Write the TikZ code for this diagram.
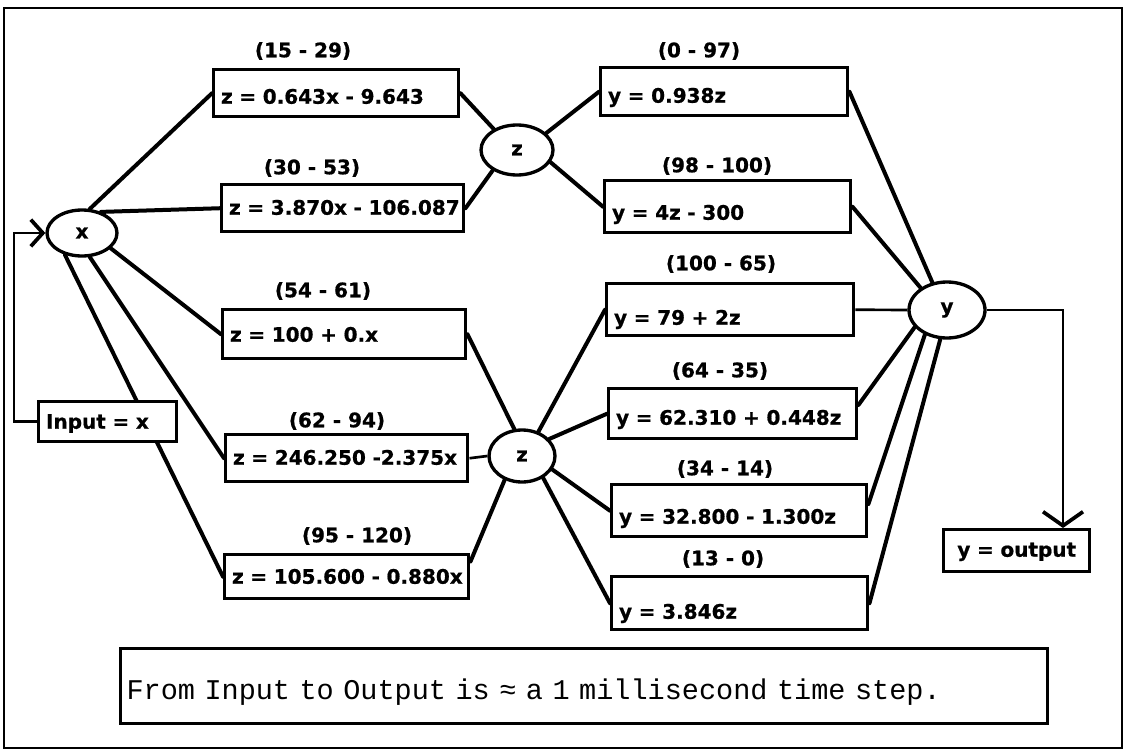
\documentclass[tikz,border=0pt]{standalone}
\usepackage{fontspec}
\newfontfamily\eqfont{DejaVu Sans}[BoldFeatures={FakeBold=0.8}]
\newfontfamily\notefont{Liberation Mono}
\usetikzlibrary{shapes.geometric,arrows.meta}
\pgfdeclarelayer{wires}
\pgfsetlayers{wires,main}

\tikzset{
  eqtext/.style={font=\eqfont\bfseries\fontsize{15}{18}\selectfont},
  eqbox/.style={eqtext, draw, rectangle, line width=2.6pt, fill=white,
    inner xsep=5.5pt, inner ysep=0pt, text depth=0pt, align=left, anchor=north west},
  rng/.style={eqtext, inner sep=0pt, text height=10.9pt, text depth=0pt},
  var/.style={eqtext, draw, ellipse, line width=2.5pt, fill=white, inner sep=0pt},
  wire/.style={line width=3pt, line cap=round},
  thinwire/.style={line width=2pt},
  notebox/.style={draw, rectangle, line width=2.3pt, fill=white, anchor=north west,
    font=\notefont\fontsize{21.4}{24}\selectfont, align=left,
    inner xsep=4.5pt, inner ysep=0pt, text depth=0pt},
}

% box from (x1,y1) to (x2,y2) in pixel units; #7 = baseline distance from the bottom edge
\newcommand\eqnode[8][]{%
  \pgfmathsetmacro\eqW{(#5-#3)*0.75}%
  \pgfmathsetmacro\eqH{(#6-#4)*0.75}%
  \pgfmathsetmacro\eqTW{(#5-#3)*0.75-11}%
  \pgfmathsetmacro\eqTH{(#6-#4-2*#7)*0.75}%
  \node[eqbox, minimum width=\eqW pt, minimum height=\eqH pt,
        text width=\eqTW pt, text height=\eqTH pt, #1] (#2) at (#3,#4) {\mbox{#8}};}

\begin{document}
\begin{tikzpicture}[x=0.75pt,y=-0.75pt]
\useasboundingbox (0,0) rectangle (1126,752);

% variable nodes
\node[var, minimum width=52.5pt, minimum height=34.5pt] (xn) at (82,233) {x};
\node[var, minimum width=54pt,   minimum height=37.5pt] (z1) at (517,150) {z};
\node[var, minimum width=49.5pt, minimum height=39pt]   (z2) at (522,456) {z};
\node[var, minimum width=57pt,   minimum height=42pt]   (yn) at (947,310) {y};

% first stage: z from x
\eqnode{A1}{212}{68}{457}{115}{13}{z = 0.643x - 9.643}
\eqnode{A2}{220}{183}{462}{230}{17}{z = 3.870x - 106.087}
\eqnode{A3}{221}{308}{464}{357}{17}{z = 100 + 0.x}
\eqnode{A4}{224}{433}{466}{480}{17}{z = 246.250 -2.375x}
\eqnode{A5}{223}{553}{467}{597}{15}{z = 105.600 - 0.880x}

% second stage: y from z
\eqnode{B1}{599}{66}{846}{114}{13}{y = 0.938z}
\eqnode{B2}{603}{179}{849}{231}{13}{y = 4z - 300}
\eqnode{B3}{605}{282}{852}{334}{11}{y = 79 + 2z}
\eqnode{B4}{607}{387}{855}{437}{14}{y = 62.310 + 0.448z}
\eqnode{B5}{610}{483}{865}{535}{13}{y = 32.800 - 1.300z}
\eqnode{B6}{610}{575}{866}{628}{11}{y = 3.846z}

% input and output
\eqnode{inb}{37}{400}{175}{440}{13}{Input = x}
\eqnode[align=center]{outb}{942}{528}{1088}{570}{15}{y = output}

% ranges
\node[rng] (L1) at (303,50)  {(15 - 29)};
\node[rng] (L2) at (312,167) {(30 - 53)};
\node[rng] (L3) at (323,290) {(54 - 61)};
\node[rng] (L4) at (337,420) {(62 - 94)};
\node[rng] (L5) at (357,535) {(95 - 120)};
\node[rng] (M1) at (699,50)  {(0 - 97)};
\node[rng] (M2) at (717,165) {(98 - 100)};
\node[rng] (M3) at (721,263) {(100 - 65)};
\node[rng] (M4) at (720,370) {(64 - 35)};
\node[rng] (M5) at (725,468) {(34 - 14)};
\node[rng] (M6) at (723,558) {(13 - 0)};

% note
\node[notebox, minimum width=695.25pt, minimum height=56.25pt,
      text width=686.25pt, text height=20.25pt] (note) at (119,647)
  {From Input to Output is ≈ a 1 millisecond time step.};

\coordinate (fb) at (14,233);
\coordinate (oc) at (1063,310);

\begin{pgfonlayer}{wires}
  \draw[line width=1.8pt] (4,8) rectangle (1122,748);

  \draw[wire] (xn.72)  -- (A1.west);
  \draw[wire] (xn.48)  -- (A2.west);
  \draw[wire] (xn.332) -- (A3.west);
  \draw[wire] (xn.288) -- (A4.west);
  \draw[wire] (xn.232) -- (A5.west);

  \draw[wire] (A1.east) -- (z1.138);
  \draw[wire] (A2.east) -- (z1.220);
  \draw[wire] (z1.30)  -- (B1.west);
  \draw[wire] (z1.340) -- (B2.west);

  \draw[wire] (A3.east) -- (z2.106);
  \draw[thinwire] (A4.east) -- (z2.west);
  \draw[wire] (A5.7) -- (z2.234);
  \draw[wire] (z2.56)  -- (B3.west);
  \draw[wire] (z2.32)  -- (B4.west);
  \draw[wire] (z2.336) -- (B5.west);
  \draw[wire] (z2.314) -- (B6.west);

  \draw[wire] (B1.east) -- (yn.118);
  \draw[wire] (B2.east) -- (yn.140);
  \draw[thinwire] (B3.east) -- (yn.west);
  \draw[wire] (B4.4) -- (yn.208);
  \draw[wire] (B5.3) -- (yn.228);
  \draw[wire] (B6.east) -- (yn.257);

  \draw[thinwire, -{Straight Barb[length=9pt, width=20pt, line width=2.8pt]}]
    (inb.west) -| (fb) -- (xn.west);
  \draw[thinwire, -{Straight Barb[length=10.5pt, width=30pt, line width=2.8pt]}]
    (yn.east) -- (oc) -- (oc |- outb.north);
\end{pgfonlayer}
\end{tikzpicture}
\end{document}
